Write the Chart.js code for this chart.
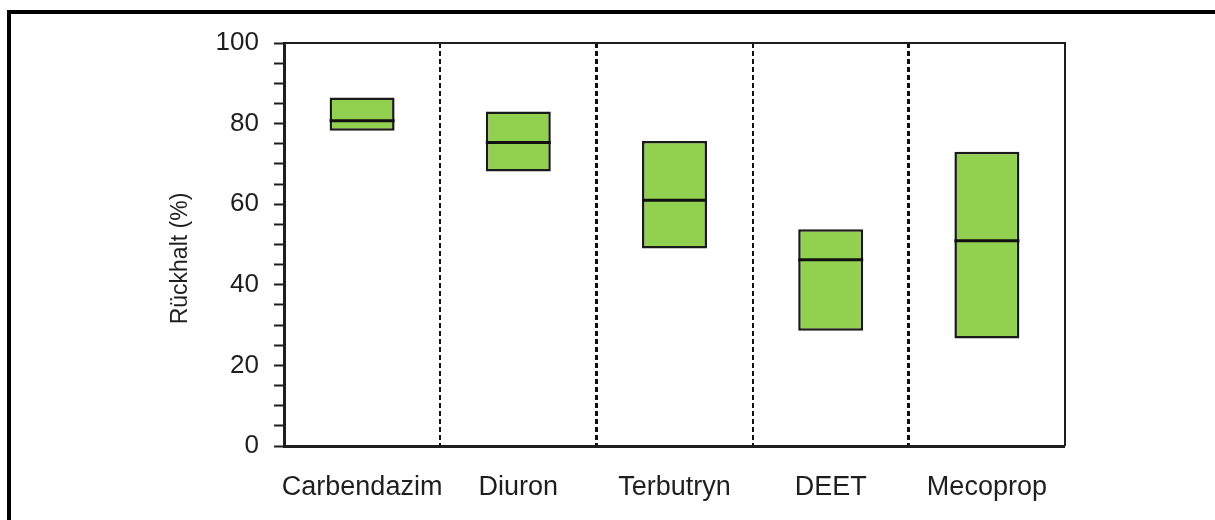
<!DOCTYPE html>
<html>
<head>
<meta charset="utf-8">
<title>Rückhalt</title>
<script src="https://cdn.jsdelivr.net/npm/chart.js@4/dist/chart.umd.min.js"></script>
<style>
  html, body { margin: 0; padding: 0; background: #ffffff; }
  #wrap { position: relative; width: 1215px; height: 520px; }
  canvas { display: block; }
</style>
</head>
<body>
<div id="wrap"><canvas id="c" width="1215" height="520"></canvas></div>
<script>
// Substances and retention ranges (min / median / max, in %)
const categories = ['Carbendazim', 'Diuron', 'Terbutryn', 'DEET', 'Mecoprop'];
const lowValues = [78.2, 68.1, 49.0, 28.6, 26.7];
const medianValues = [80.7, 75.3, 61.0, 46.2, 50.9];
const highValues = [86.5, 83.0, 75.7, 53.8, 73.0];
const yTickLabels = [0, 20, 40, 60, 80, 100];
const yAxisTitle = 'Rückhalt (%)';

const FONT = '"Liberation Sans", Arial, Helvetica, sans-serif';
const INK = '#1e1e1e';

// Outer frame, closing lines of the plot box and the rotated axis title
const decorations = {
  id: 'decorations',
  afterDraw(chart) {
    const { ctx, chartArea: a } = chart;
    ctx.save();
    // plot box: top and right sides
    ctx.strokeStyle = INK;
    ctx.lineWidth = 2;
    ctx.beginPath();
    ctx.moveTo(a.left, a.top);
    ctx.lineTo(a.right, a.top);
    ctx.lineTo(a.right, a.bottom);
    ctx.stroke();
    // outer frame (left and top edges)
    ctx.fillStyle = '#000000';
    ctx.fillRect(7, 10, 4, 510);
    ctx.fillRect(7, 10, 1208, 4);
    // y axis title
    ctx.translate(187, 258.5);
    ctx.rotate(-Math.PI / 2);
    ctx.fillStyle = INK;
    ctx.font = '23px ' + FONT;
    ctx.textAlign = 'center';
    ctx.textBaseline = 'alphabetic';
    ctx.fillText(yAxisTitle, 0, 0);
    ctx.restore();
  }
};

new Chart(document.getElementById('c'), {
  data: {
    labels: categories,
    datasets: [
      {
        type: 'line',
        label: 'Median',
        data: medianValues,
        showLine: false,
        pointStyle: 'line',
        pointRadius: 32.5,
        pointHoverRadius: 32.5,
        pointBorderWidth: 3,
        pointBorderColor: '#111111',
        order: 0
      },
      {
        type: 'bar',
        label: 'Bereich',
        data: lowValues.map((lo, i) => [lo, highValues[i]]),
        backgroundColor: '#92d050',
        borderColor: '#1a1a1a',
        borderWidth: 2.5,
        borderSkipped: false,
        barPercentage: 0.416,
        categoryPercentage: 1,
        order: 1
      }
    ]
  },
  options: {
    responsive: false,
    devicePixelRatio: 1,
    animation: false,
    layout: { padding: { left: 0, top: 43, right: 150, bottom: 0 } },
    plugins: {
      legend: { display: false },
      tooltip: { enabled: false }
    },
    scales: {
      x: {
        type: 'category',
        afterFit(scale) { scale.height = 74; },
        grid: {
          offset: true,
          drawTicks: false,
          color: '#111111',
          lineWidth: (c) => (c.index === 0 || c.index === categories.length) ? 0 : (c.index % 2 === 0 ? 3 : 2)
        },
        border: { display: true, color: INK, width: 3, dash: [5, 3] },
        ticks: {
          autoSkip: false,
          maxRotation: 0,
          minRotation: 0,
          color: INK,
          padding: 25,
          font: { family: FONT, size: 27 }
        }
      },
      y: {
        min: 0,
        max: 100,
        afterFit(scale) { scale.width = 284; },
        grid: {
          drawOnChartArea: false,
          drawTicks: true,
          tickLength: 10,
          tickWidth: 2,
          tickColor: INK
        },
        border: { display: true, color: INK, width: 3 },
        ticks: {
          stepSize: 5,
          autoSkip: false,
          color: INK,
          padding: 15,
          font: { family: FONT, size: 26 },
          callback: (v) => yTickLabels.includes(v) ? String(v) : ''
        }
      }
    }
  },
  plugins: [decorations]
});
</script>
</body>
</html>
